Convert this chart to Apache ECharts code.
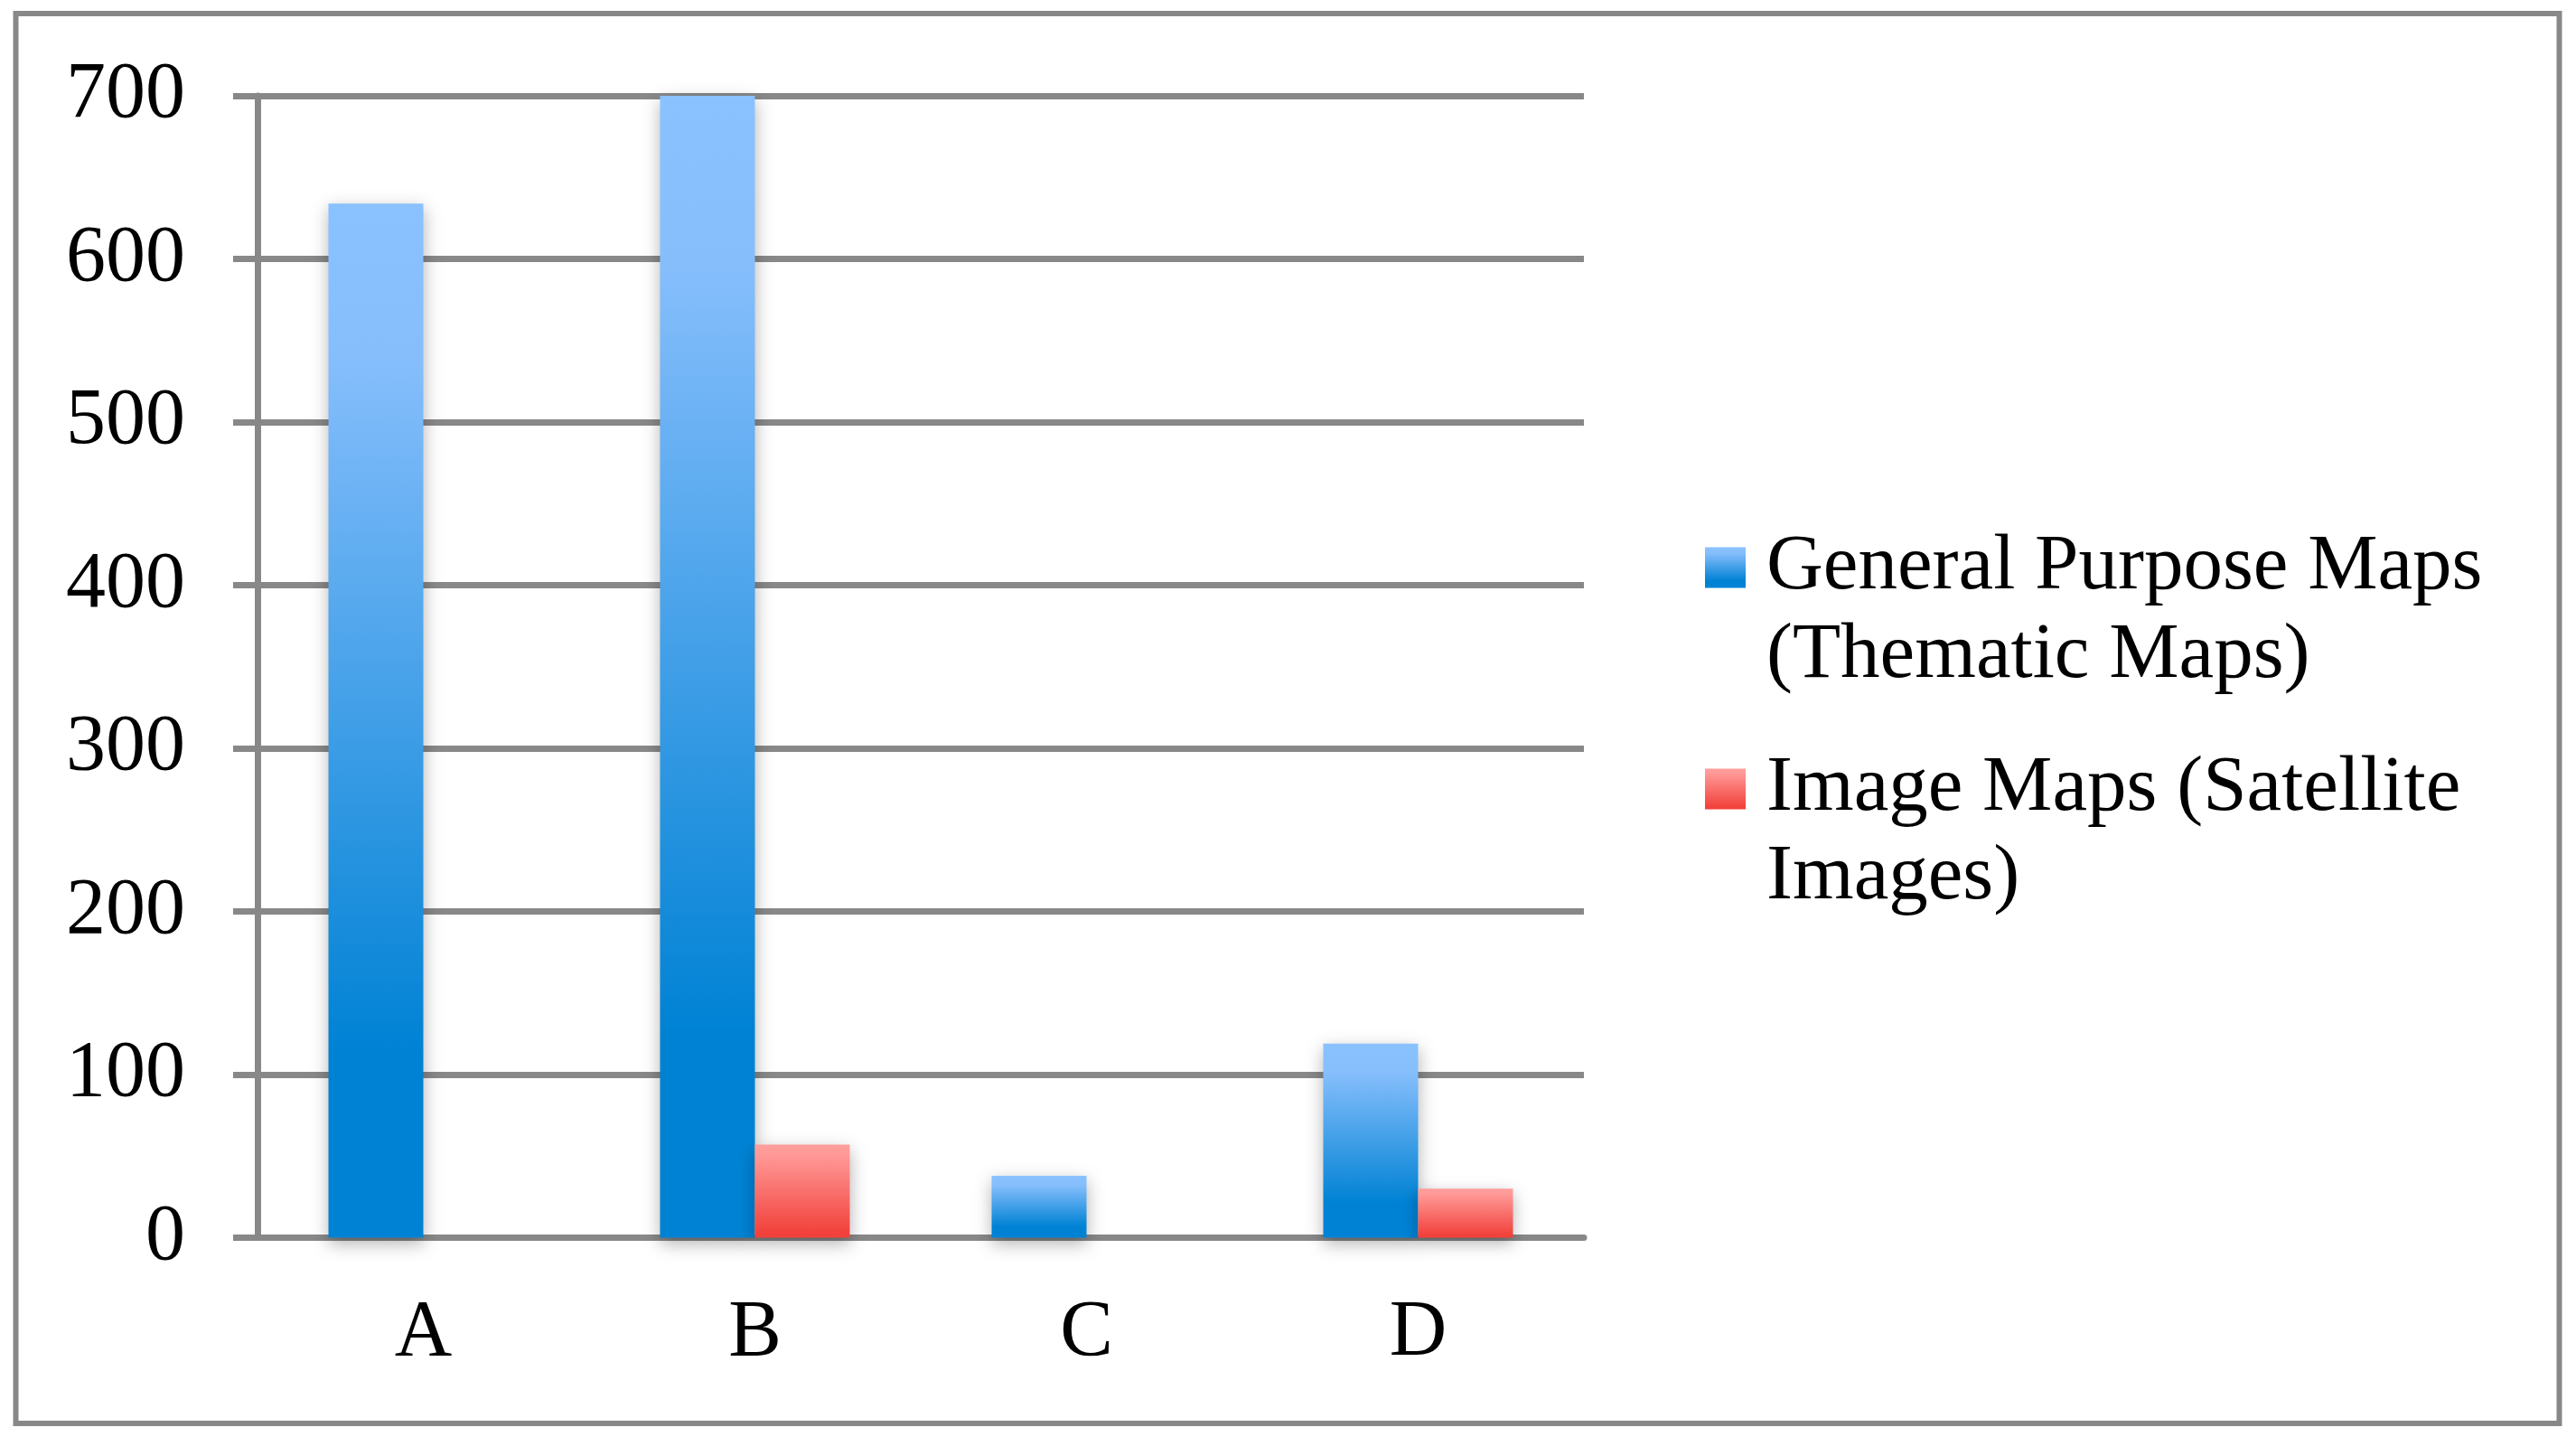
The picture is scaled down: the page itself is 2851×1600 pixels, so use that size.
<!DOCTYPE html>
<html>
<head>
<meta charset="utf-8">
<script src="https://cdn.jsdelivr.net/npm/echarts@6/dist/echarts.min.js"></script>
<style>
  html, body { margin: 0; padding: 0; background: #fff; }
  #chart { width: 2851px; height: 1600px; }
</style>
</head>
<body>
<div id="chart"></div>
<script>
var categories = ['A', 'B', 'C', 'D'];
var seriesNames = ['General Purpose Maps (Thematic Maps)', 'Image Maps (Satellite Images)'];
var legendLines = [['General Purpose Maps', '(Thematic Maps)'], ['Image Maps (Satellite', 'Images)']];
var generalValues = [634, 700, 38, 119];
var imageValues = [0, 57, 0, 30];
var yTicks = [0, 100, 200, 300, 400, 500, 600, 700];

var dom = document.getElementById('chart');
var myChart = echarts.init(dom);

var font = 'Liberation Serif';
var lineH = 98;
var gray = '#888888';

function grad(top, mid1, bottom, s1, s2) {
    return new echarts.graphic.LinearGradient(0, 0, 0, 1, [
        { offset: 0, color: top },
        { offset: s1, color: mid1 },
        { offset: s2, color: bottom },
        { offset: 1, color: bottom }
    ]);
}

// blank first line keeps the icon level with the first text line
function legendFor(i, top) {
    return {
        data: [seriesNames[i]],
        left: 1882,
        top: top,
        orient: 'vertical',
        icon: 'rect',
        itemWidth: 45,
        itemHeight: 45,
        formatter: function (name) {
            return ' \n' + legendLines[seriesNames.indexOf(name)].join('\n');
        },
        textStyle: {
            fontFamily: font,
            fontSize: 87,
            color: '#000',
            lineHeight: lineH,
            padding: [0, 0, 0, 18]
        }
    };
}

option = {
    backgroundColor: '#fff',
    animation: false,
    grid: { left: 285, right: 1098, top: 106, bottom: 230.5 },
    legend: [legendFor(0, 476), legendFor(1, 721)],
    xAxis: {
        type: 'category',
        data: categories,
        axisLine: { lineStyle: { color: gray, width: 7 } },
        axisTick: { length: 28, lineStyle: { color: gray, width: 5 } },
        axisLabel: { fontFamily: font, fontSize: 88, color: '#000', margin: 62 }
    },
    yAxis: {
        type: 'value',
        min: yTicks[0],
        max: yTicks[yTicks.length - 1],
        interval: 100,
        axisLine: { show: true, lineStyle: { color: gray, width: 7 } },
        axisTick: { show: true, length: 27, lineStyle: { color: gray, width: 7 } },
        splitLine: { lineStyle: { color: gray, width: 7 } },
        axisLabel: { fontFamily: font, fontSize: 88, color: '#000', margin: 80 }
    },
    series: [
        {
            name: seriesNames[0],
            type: 'bar',
            data: generalValues,
            barWidth: 105,
            barGap: '0%',
            itemStyle: {
                color: grad('#8AC2FF', '#86BEFC', '#0082D4', 0.15, 0.82),
                shadowBlur: 18,
                shadowColor: 'rgba(0,0,0,0.3)',
                shadowOffsetY: 6
            }
        },
        {
            name: seriesNames[1],
            type: 'bar',
            data: imageValues,
            barWidth: 105,
            barGap: '0%',
            itemStyle: {
                color: grad('#FF9E9C', '#FF9A98', '#F2413B', 0.1, 0.95),
                shadowBlur: 18,
                shadowColor: 'rgba(0,0,0,0.3)',
                shadowOffsetY: 6
            }
        }
    ],
    graphic: [{
        type: 'rect',
        shape: { x: 17.5, y: 15, width: 2815, height: 1560 },
        style: { fill: 'none', stroke: gray, lineWidth: 6 },
        silent: true,
        z: -1
    }]
};

myChart.setOption(option, true);
</script>
</body>
</html>
